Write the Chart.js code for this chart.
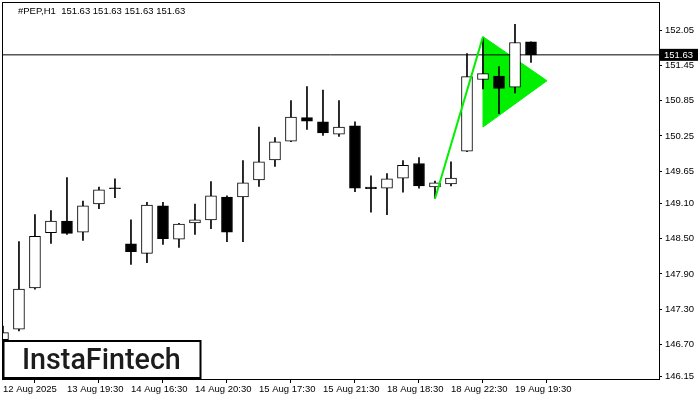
<!DOCTYPE html>
<html><head><meta charset="utf-8">
<script src="https://cdn.jsdelivr.net/npm/chart.js@4.4.1/dist/chart.umd.min.js"></script>
<style>html,body{margin:0;padding:0;background:#fff;}canvas{display:block;}</style>
</head><body>
<canvas id="c" width="700" height="400"></canvas>
<script>
// ---- data ----
const times = ['12 Aug 22:30',
 '13 Aug 16:30','13 Aug 17:30','13 Aug 18:30','13 Aug 19:30','13 Aug 20:30','13 Aug 21:30','13 Aug 22:30',
 '14 Aug 16:30','14 Aug 17:30','14 Aug 18:30','14 Aug 19:30','14 Aug 20:30','14 Aug 21:30','14 Aug 22:30',
 '15 Aug 16:30','15 Aug 17:30','15 Aug 18:30','15 Aug 19:30','15 Aug 20:30','15 Aug 21:30','15 Aug 22:30',
 '18 Aug 16:30','18 Aug 17:30','18 Aug 18:30','18 Aug 19:30','18 Aug 20:30','18 Aug 21:30','18 Aug 22:30',
 '19 Aug 16:30','19 Aug 17:30','19 Aug 18:30','19 Aug 19:30','19 Aug 20:30'];
const xTickIdx = [0,4,8,12,16,20,24,28,32];
const xTickLabels = ['12 Aug 2025','13 Aug 19:30','14 Aug 16:30','14 Aug 20:30','15 Aug 17:30','15 Aug 21:30','18 Aug 18:30','18 Aug 22:30','19 Aug 19:30'];
const openV  = [146.78,146.96,147.66,148.60,148.80,148.61,149.09,149.35,148.41,148.25,149.06,148.49,148.77,148.82,149.21,149.21,149.50,149.84,150.16,150.56,150.49,150.28,150.42,149.38,149.36,149.53,149.78,149.38,149.43,149.99,151.21,151.27,151.08,151.85];
const highV  = [147.01,148.45,148.91,148.98,149.54,149.14,149.38,149.52,148.82,149.12,149.12,148.76,149.09,149.47,149.23,149.83,150.40,150.22,150.85,151.09,151.03,150.85,150.49,149.57,149.61,149.83,149.88,149.48,149.81,151.65,151.91,151.43,152.15,151.85];
const lowV   = [146.72,146.93,147.64,148.42,148.57,148.47,149.01,149.20,148.06,148.09,148.40,148.35,148.57,148.67,148.45,148.45,149.39,149.73,150.15,150.36,150.26,150.24,149.30,148.95,148.91,149.29,149.36,149.19,149.40,149.98,151.05,150.63,150.98,151.50];
const closeV = [146.90,147.64,148.54,148.80,148.59,149.06,149.33,149.35,148.28,149.07,148.50,148.75,148.82,149.23,148.61,149.45,149.81,150.15,150.57,150.50,150.30,150.40,149.36,149.35,149.52,149.75,149.40,149.45,149.53,151.26,151.31,151.06,151.84,151.63];
const yTicks = [146.15,146.70,147.30,147.90,148.50,149.10,149.65,150.25,150.85,151.45,152.05];
const lastPrice = 151.63;
const titleText = '#PEP,H1  151.63 151.63 151.63 151.63';
const poleX = [27,30], poleY = [149.18,151.94];
const triX = [30,34,30,30], triY = [151.94,151.19,150.40,151.94];

// ---- build ----
const FAM = '"Liberation Sans", Arial, sans-serif';
const wickData = times.map((t,i)=>({x:i, y:[lowV[i], highV[i]]}));
const bodyData = times.map((t,i)=>({x:i, y:[openV[i], closeV[i]]}));
const bodyFill = times.map((t,i)=> closeV[i] > openV[i] ? '#ffffff' : '#000000');
const GREEN = '#00f000';

const overlay = {
  id:'overlay',
  afterDraw(chart){
    const ctx = chart.ctx, a = chart.chartArea;
    const ys = chart.scales.y;
    ctx.save();
    // frame
    ctx.strokeStyle = '#000'; ctx.lineWidth = 1;
    ctx.strokeRect(Math.round(a.left)+0.5, Math.round(a.top)+0.5, Math.round(a.right-a.left), Math.round(a.bottom-a.top));
    // title
    ctx.fillStyle = '#000';
    ctx.font = '9.5px ' + FAM;
    ctx.textBaseline = 'middle'; ctx.textAlign = 'left';
    ctx.fillText(titleText, 18, 11);
    // price label
    const py = ys.getPixelForValue(lastPrice);
    ctx.fillStyle = '#000';
    ctx.fillRect(a.right+1, py-6, 38, 12);
    ctx.fillStyle = '#fff';
    ctx.fillText(lastPrice.toFixed(2), a.right+5, py+0.5);
    // logo
    ctx.fillStyle = '#fff';
    ctx.fillRect(3, 340, 198, 38);
    ctx.lineWidth = 2; ctx.strokeStyle = '#000';
    ctx.strokeRect(3.5, 341, 197, 37);
    const txt = 'InstaFintech';
    ctx.font = '500 27px Roboto, sans-serif';
    const w = ctx.measureText(txt).width;
    const size = 27 * 159 / w;
    ctx.font = '500 ' + size.toFixed(1) + 'px Roboto, sans-serif';
    ctx.fillStyle = '#1c1c1c';
    ctx.textBaseline = 'alphabetic';
    ctx.fillText(txt, 22, 369);
    ctx.restore();
  }
};

new Chart(document.getElementById('c'), {
  type:'bar',
  data:{
    datasets:[
      {type:'line', label:'pattern-triangle', data: triX.map((x,i)=>({x, y:triY[i]})),
       borderColor:GREEN, borderWidth:1, backgroundColor:GREEN, fill:'shape', pointRadius:0, tension:0, order:10},
      {type:'line', label:'price', data:[{x:-1,y:lastPrice},{x:42,y:lastPrice}],
       borderColor:'#000', borderWidth:1, pointRadius:0, fill:false, order:9},
      {label:'wick', data:wickData, backgroundColor:'#000', borderWidth:0, barThickness:1, grouped:false, order:5},
      {label:'body', data:bodyData, backgroundColor:bodyFill, borderColor:'#000', borderWidth:1,
       borderSkipped:false, barThickness:11, grouped:false, minBarLength:1, order:4},
      {type:'line', label:'pole', data: poleX.map((x,i)=>({x, y:poleY[i]})),
       borderColor:GREEN, borderWidth:2, pointRadius:0, fill:false, tension:0, order:1}
    ]
  },
  options:{
    responsive:false, animation:false,
    layout:{padding:{left:2, top:2, right:0, bottom:0}},
    plugins:{legend:{display:false}, tooltip:{enabled:false}},
    scales:{
      x:{type:'linear', min:-0.06, max:41.0, offset:false,
        grid:{drawOnChartArea:false, drawTicks:true, tickLength:4, color:'#000'},
        border:{display:false},
        afterBuildTicks(s){ s.ticks = xTickIdx.map(v=>({value:v})); },
        afterFit(s){ s.height = 21; s.paddingLeft = 0; s.paddingRight = 0; },
        ticks:{autoSkip:false, maxRotation:0, minRotation:0, align:'start', padding:1, color:'#000',
          font:{family:FAM, size:9.5},
          callback(v){ const k = xTickIdx.indexOf(v); return k>=0 ? xTickLabels[k] : ''; }}
      },
      y:{type:'linear', position:'right', min:146.11, max:152.53, beginAtZero:false,
        grid:{drawOnChartArea:false, drawTicks:true, tickLength:3, color:'#000'},
        border:{display:false},
        afterBuildTicks(s){ s.ticks = yTicks.map(v=>({value:v})); },
        afterFit(s){ s.width = 41; s.paddingTop = 0; s.paddingBottom = 0; },
        ticks:{padding:3, color:'#000', font:{family:FAM, size:9.5},
          callback(v){ return Number(v).toFixed(2); }}
      }
    }
  },
  plugins:[overlay]
});
</script>
</body></html>
